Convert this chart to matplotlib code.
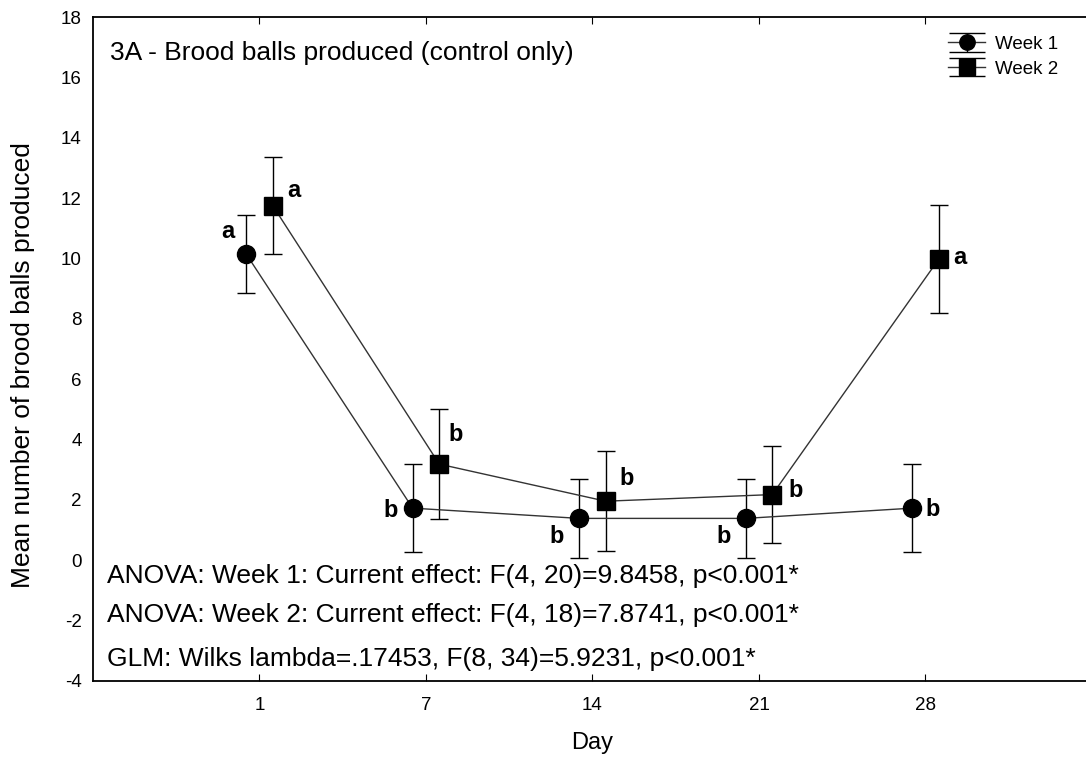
import numpy as np
import matplotlib.pyplot as plt

plt.rcParams['font.family'] = ['Liberation Sans', 'DejaVu Sans']
plt.rcParams['axes.unicode_minus'] = False

# data
days = ['1', '7', '14', '21', '28']
week1_mean = [10.15, 1.72, 1.38, 1.38, 1.72]
week1_err = [1.30, 1.45, 1.30, 1.30, 1.45]
week2_mean = [11.75, 3.18, 1.95, 2.17, 9.98]
week2_err = [1.60, 1.82, 1.65, 1.62, 1.80]
week1_letters = ['a', 'b', 'b', 'b', 'b']
week2_letters = ['a', 'b', 'b', 'b', 'a']
stats_lines = [
    'ANOVA: Week 1: Current effect: F(4, 20)=9.8458, p<0.001*',
    'ANOVA: Week 2: Current effect: F(4, 18)=7.8741, p<0.001*',
    'GLM: Wilks lambda=.17453, F(8, 34)=5.9231, p<0.001*',
]

# letter offsets (points) relative to each point
w1_offsets = [(-13, 16), (-16, -2), (-16, -13), (-16, -13), (15, -1)]
w2_offsets = [(15, 11), (12, 21), (15, 16), (17, 3), (15, 1)]
stats_y = [0.157, 0.099, 0.033]

x = np.arange(1, len(days) + 1)
shift = 0.08
style = dict(color='#333333', mfc='black', mec='black', ms=13, lw=1.0,
             ecolor='black', elinewidth=1.0, capthick=1.0)

fig = plt.figure(figsize=(10.86, 7.58), dpi=100)
ax = fig.add_axes([0.0856, 0.1021, 0.9199, 0.8751])

ax.errorbar(x - shift, week1_mean, yerr=week1_err, fmt='-o', capsize=6.5, **style)
ax.errorbar(x + shift, week2_mean, yerr=week2_err, fmt='-s', capsize=6.5, **style)

for xi, yi, lab, off in zip(x - shift, week1_mean, week1_letters, w1_offsets):
    ax.annotate(lab, (xi, yi), xytext=off, textcoords='offset points',
                ha='center', va='center', fontsize=17, fontweight='bold')
for xi, yi, lab, off in zip(x + shift, week2_mean, week2_letters, w2_offsets):
    ax.annotate(lab, (xi, yi), xytext=off, textcoords='offset points',
                ha='center', va='center', fontsize=17, fontweight='bold')

ax.text(0.017, 0.946, '3A - Brood balls produced (control only)',
        transform=ax.transAxes, fontsize=19, va='center', ha='left')
for yy, line in zip(stats_y, stats_lines):
    ax.text(0.014, yy, line, transform=ax.transAxes,
            fontsize=19, va='center', ha='left')

# legend proxies (wide caps like the original)
p1 = ax.errorbar([np.nan], [np.nan], yerr=[1], fmt='-o', capsize=13.3, **style)
p2 = ax.errorbar([np.nan], [np.nan], yerr=[1], fmt='-s', capsize=13.3, **style)
ax.legend([p1, p2], ['Week 1', 'Week 2'], loc='upper left',
          bbox_to_anchor=(0.856, 0.972), frameon=False, fontsize=13.5,
          handlelength=1.97, handletextpad=0.53, labelspacing=0.4,
          borderpad=0, borderaxespad=0, markerscale=0.85)

ax.set_xlim(0, 6)
ax.set_ylim(-4, 18)
ax.set_xticks(x)
ax.set_xticklabels(days)
ax.set_yticks(np.arange(-4, 19, 2))
ax.tick_params(axis='x', direction='in', top=True, length=5, labelsize=13.5, pad=12)
ax.tick_params(axis='y', direction='out', length=0, labelsize=13.5, pad=8)
ax.spines['right'].set_visible(False)
for s in ['left', 'top', 'bottom']:
    ax.spines[s].set_linewidth(1.3)

ax.set_xlabel('Day', fontsize=17, labelpad=13)
ax.set_ylabel('Mean number of brood balls produced', fontsize=19)
ax.yaxis.set_label_coords(-0.058, 0.476)

fig.savefig('out.png', dpi=100)
